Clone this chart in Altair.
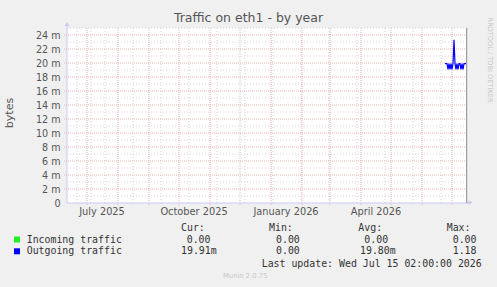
import altair as alt
import pandas as pd

# ---------------- data ----------------
out_dates = ["2026-06-24", "2026-06-25", "2026-06-26", "2026-06-27", "2026-06-28",
             "2026-06-29", "2026-06-30", "2026-07-01", "2026-07-02", "2026-07-03",
             "2026-07-04", "2026-07-05", "2026-07-06", "2026-07-07", "2026-07-08",
             "2026-07-09", "2026-07-10", "2026-07-11", "2026-07-12", "2026-07-13",
             "2026-07-14", "2026-07-15"]
out_values = [19.9, 19.9, 19.9, 19.1, 19.9, 19.1, 19.9, 19.1, 19.9, 23.3,
              19.9, 19.1, 19.9, 19.1, 19.9, 19.9, 19.1, 19.9, 19.1, 19.9,
              19.9, 19.9]  # milli-bytes

month_starts = ["2025-07-01", "2025-08-01", "2025-09-01", "2025-10-01", "2025-11-01",
                "2025-12-01", "2026-01-01", "2026-02-01", "2026-03-01", "2026-04-01",
                "2026-05-01", "2026-06-01", "2026-07-01"]
minor_dates = ["2025-06-21", "2025-07-05", "2025-07-19", "2025-08-16", "2025-09-13",
               "2025-10-11", "2025-11-08", "2025-12-06", "2026-01-03", "2026-01-31",
               "2026-02-28", "2026-03-28", "2026-04-25", "2026-05-23", "2026-06-20"]
x_label_dates = ["2025-07-16", "2025-10-16", "2026-01-16", "2026-04-16"]
x_label_texts = ["July 2025", "October 2025", "January 2026", "April 2026"]
y_major = [2, 4, 6, 8, 10, 12, 14, 16, 18, 20, 22, 24]
y_minor = [1, 3, 5, 7, 9, 11, 13, 15, 17, 19, 21, 23, 25]
y_ticks = [0, 2, 4, 6, 8, 10, 12, 14, 16, 18, 20, 22, 24]

legend_names = ["Incoming traffic", "Outgoing traffic"]
legend_colors = ["#22ee22", "#0000ff"]
col_headers = ["Cur:", "Min:", "Avg:", "Max:"]
incoming_stats = ["0.00", "0.00", "0.00", "0.00"]
outgoing_stats = ["19.91m", "0.00", "19.80m", "1.18"]
last_update = "Last update: Wed Jul 15 02:00:00 2026"

# ---------------- layout ----------------
W, H = 400, 175
PL, PT = 67, 28
xs = alt.Scale(type="utc", domain=[alt.DateTime(year=2025, month=6, date=11, utc=True),
                                  alt.DateTime(year=2026, month=7, date=16, utc=True)])
ys = alt.Scale(domain=[0, 25], nice=False, zero=True)

RED = "#ecb4b4"
GRAY = "#d4d4d4"
AXIS = "#c8c8f4"
TXT = "#555555"

y_axis = alt.Axis(values=y_ticks,
                  labelExpr="datum.value == 0 ? '0' : datum.value + ' m'",
                  grid=False, domain=False, ticks=False,
                  labelFont="DejaVu Sans", labelFontSize=9.6,
                  labelColor=TXT, labelPadding=7, title=None)


def px(x):
    return x - PL


def py(y):
    return y - PT


one = pd.DataFrame({"k": [0]})
df_out = pd.DataFrame({"date": out_dates, "value": out_values})
df_major_v = pd.DataFrame({"date": month_starts})
df_minor_v = pd.DataFrame({"date": minor_dates})
df_major_h = pd.DataFrame({"value": y_major})
df_minor_h = pd.DataFrame({"value": y_minor})
df_xlab = pd.DataFrame({"date": x_label_dates, "label": x_label_texts})

minor_v = alt.Chart(df_minor_v).mark_rule(color=GRAY, strokeDash=[1, 2]).encode(
    x=alt.X("date:T", scale=xs, axis=None), y=alt.value(0), y2=alt.value(H))
minor_h = alt.Chart(df_minor_h).mark_rule(color=GRAY, strokeDash=[1, 2]).encode(
    y=alt.Y("value:Q", scale=ys, axis=y_axis), x=alt.value(0), x2=alt.value(W))
major_h = alt.Chart(df_major_h).mark_rule(color=RED, strokeDash=[1, 1]).encode(
    y=alt.Y("value:Q", scale=ys, axis=y_axis), x=alt.value(-3), x2=alt.value(W))
major_v = alt.Chart(df_major_v).mark_rule(color=RED, strokeDash=[1, 1]).encode(
    x=alt.X("date:T", scale=xs, axis=None), y=alt.value(0), y2=alt.value(H + 3))

line = alt.Chart(df_out).mark_line(color="#0000ff", strokeWidth=1.2, interpolate="linear").encode(
    x=alt.X("date:T", scale=xs, axis=None),
    y=alt.Y("value:Q", scale=ys, axis=y_axis))

xlab = alt.Chart(df_xlab).mark_text(font="DejaVu Sans", fontSize=9.8, color=TXT,
                                    baseline="middle", align="center").encode(
    x=alt.X("date:T", scale=xs, axis=None), y=alt.value(py(212)), text="label:N")

left_axis = alt.Chart(one).mark_rule(color=AXIS).encode(
    x=alt.value(0), y=alt.value(-3), y2=alt.value(H))
bottom_axis = alt.Chart(one).mark_rule(color=AXIS).encode(
    y=alt.value(H), x=alt.value(0), x2=alt.value(px(469)))
right_edge = alt.Chart(one).mark_rule(color="#888888").encode(
    x=alt.value(px(466.7)), y=alt.value(0), y2=alt.value(H))
arrow_up = alt.Chart(one).mark_point(shape="triangle-up", filled=True, color=AXIS,
                                     size=22, opacity=1).encode(
    x=alt.value(0), y=alt.value(py(24)))
arrow_right = alt.Chart(one).mark_point(shape="triangle-right", filled=True, color=AXIS,
                                        size=22, opacity=1).encode(
    x=alt.value(px(470.5)), y=alt.value(H - 0.5))


def label(text, x, y, size=9.9, color="#333333", font="DejaVu Sans Mono", align="left", angle=0):
    kw = dict(text=text, font=font, fontSize=size, color=color, align=align, baseline="middle")
    if angle:
        kw["angle"] = angle
    return alt.Chart(one).mark_text(**kw).encode(x=alt.value(px(x)), y=alt.value(py(y)))


texts = [
    label("Traffic on eth1 - by year", 248.5, 18, size=12.5, color=TXT, font="DejaVu Sans", align="center"),
    label("bytes", 10, 113, size=11, color=TXT, font="DejaVu Sans", align="center", angle=270),
    label("RRDTOOL / TOBI OETIKER", 489.5, 60, size=6.6, color="#c8c8c8", font="DejaVu Sans",
          align="center", angle=90),
    label("Munin 2.0.75", 223, 276, size=6.8, color="#c8c8c8", font="DejaVu Sans"),
    label(last_update, 261.7, 264),
]
header_x = [181, 269, 358.3, 446.7]
inc_x = [186.7, 276, 364.3, 452.7]
out_x = [181, 276, 360, 452.7]
for h, x in zip(col_headers, header_x):
    texts.append(label(h, x, 228))
for s, x in zip(incoming_stats, inc_x):
    texts.append(label(s, x, 239.5))
for s, x in zip(outgoing_stats, out_x):
    texts.append(label(s, x, 251.3))
for i, (n, c) in enumerate(zip(legend_names, legend_colors)):
    y = 239.5 + i * 11.8
    texts.append(label(n, 26.7, y))
    texts.append(alt.Chart(one).mark_square(color=c, size=36, opacity=1).encode(
        x=alt.value(px(17)), y=alt.value(py(y))))

chart = alt.layer(minor_v, minor_h, major_h, major_v, line, left_axis, bottom_axis,
                  right_edge, arrow_up, arrow_right, xlab, *texts).properties(
    width=W, height=H,
    autosize=alt.AutoSizeParams(type="none"),
    padding={"left": PL, "top": PT, "right": 497 - PL - W, "bottom": 287 - PT - H},
    background="#f0f0f0",
).configure_view(fill="white", strokeWidth=0)

chart.save("out.html", embed_options={"renderer": "svg", "actions": False})
